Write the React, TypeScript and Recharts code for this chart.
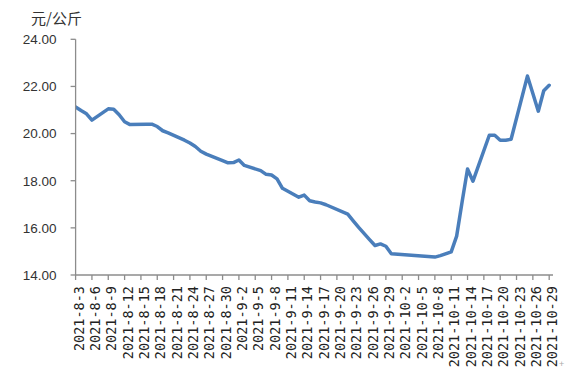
import React from "react";
import { LineChart, Line, XAxis, YAxis } from "recharts";

const dates = [
  "2021-8-3","2021-8-4","2021-8-5","2021-8-6","2021-8-9","2021-8-10","2021-8-11","2021-8-12","2021-8-13",
  "2021-8-16","2021-8-17","2021-8-18","2021-8-19","2021-8-20","2021-8-23","2021-8-24","2021-8-25","2021-8-26","2021-8-27",
  "2021-8-30","2021-8-31","2021-9-1","2021-9-2","2021-9-3","2021-9-6","2021-9-7","2021-9-8","2021-9-9","2021-9-10",
  "2021-9-13","2021-9-14","2021-9-15","2021-9-16","2021-9-17","2021-9-18","2021-9-22","2021-9-23","2021-9-24","2021-9-26",
  "2021-9-27","2021-9-28","2021-9-29","2021-9-30","2021-10-8","2021-10-9","2021-10-11","2021-10-12","2021-10-13","2021-10-14",
  "2021-10-15","2021-10-18","2021-10-19","2021-10-20","2021-10-21","2021-10-22","2021-10-25","2021-10-26","2021-10-27",
  "2021-10-28","2021-10-29",
];

const prices = [
  21.13, 20.98, 20.84, 20.57, 21.05, 21.03, 20.8, 20.5, 20.38, 20.4,
  20.4, 20.3, 20.12, 20.03, 19.72, 19.6, 19.45, 19.25, 19.13, 18.85,
  18.76, 18.77, 18.88, 18.65, 18.43, 18.27, 18.24, 18.08, 17.68, 17.3,
  17.39, 17.15, 17.1, 17.06, 16.98, 16.58, 16.3, 16.02, 15.5, 15.25,
  15.32, 15.22, 14.9, 14.76, 14.82, 14.98, 15.65, 17.1, 18.5, 17.98,
  19.93, 19.93, 19.72, 19.72, 19.76, 22.44, 21.7, 20.95, 21.82, 22.05,
];

const tickLabels = [
  "2021-8-3","2021-8-6","2021-8-9","2021-8-12","2021-8-15","2021-8-18","2021-8-21","2021-8-24","2021-8-27","2021-8-30",
  "2021-9-2","2021-9-5","2021-9-8","2021-9-11","2021-9-14","2021-9-17","2021-9-20","2021-9-23","2021-9-26","2021-9-29",
  "2021-10-2","2021-10-5","2021-10-8","2021-10-11","2021-10-14","2021-10-17","2021-10-20","2021-10-23","2021-10-26","2021-10-29",
];

const yTicks = [14, 16, 18, 20, 22, 24];

const dayIndex = (s: string) => {
  const [y, m, d] = s.split("-").map(Number);
  return Math.round((Date.UTC(y, m - 1, d) - Date.UTC(2021, 7, 3)) / 86400000);
};

const data = dates.map((d, i) => ({ day: dayIndex(d), price: prices[i] }));
const xTicks = tickLabels.map(dayIndex);
const labelByDay: Record<number, string> = {};
tickLabels.forEach((l) => (labelByDay[dayIndex(l)] = l));

const XTick = (props: any) => {
  const { x, y, payload } = props;
  const tx = x + 3;
  return (
    <text
      x={tx}
      y={y}
      transform={`rotate(-90 ${tx} ${y})`}
      textAnchor="end"
      dominantBaseline="central"
      fontFamily="'DejaVu Sans Mono', 'Liberation Mono', monospace"
      fontSize={13.5}
      fill="#222"
    >
      {labelByDay[payload.value]}
    </text>
  );
};

export default function App() {
  return (
    <div style={{ position: "absolute", left: 0, top: 0, width: 578, height: 377, background: "#fff" }}>
      <div
        style={{
          position: "absolute",
          left: 31,
          top: 8,
          fontFamily: "'Noto Sans CJK SC', sans-serif",
          fontSize: 15,
          color: "#333",
          lineHeight: "20px",
        }}
      >
        元/公斤
      </div>
      <div
        style={{
          position: "absolute",
          left: 559,
          top: 359,
          fontFamily: "'Liberation Sans', sans-serif",
          fontSize: 9,
          color: "#aaa",
        }}
      >
        +
      </div>
      <LineChart
        width={578}
        height={377}
        data={data}
        margin={{ top: 39.3, right: 25, bottom: 2, left: 5.6 }}
      >
        <XAxis
          dataKey="day"
          type="number"
          domain={[0, 87.7]}
          ticks={xTicks}
          interval={0}
          height={100}
          tick={<XTick />}
          tickSize={5}
          tickMargin={6}
          axisLine={{ stroke: "#8c8c8c", strokeWidth: 1.3 }}
          tickLine={{ stroke: "#8c8c8c", strokeWidth: 1.3 }}
          allowDataOverflow
        />
        <YAxis
          type="number"
          domain={[14, 24]}
          ticks={yTicks}
          width={70}
          tickSize={5}
          tickMargin={14}
          tickFormatter={(v: number) => v.toFixed(2)}
          tick={{ fontFamily: "'Liberation Sans', Arial, sans-serif", fontSize: 13.5, fill: "#333" }}
          axisLine={{ stroke: "#8c8c8c", strokeWidth: 1.3 }}
          tickLine={{ stroke: "#8c8c8c", strokeWidth: 1.3 }}
        />
        <Line
          type="linear"
          dataKey="price"
          stroke="#4a7ebb"
          strokeWidth={3.5}
          strokeLinejoin="round"
          strokeLinecap="round"
          dot={false}
          activeDot={false}
          isAnimationActive={false}
        />
      </LineChart>
    </div>
  );
}
